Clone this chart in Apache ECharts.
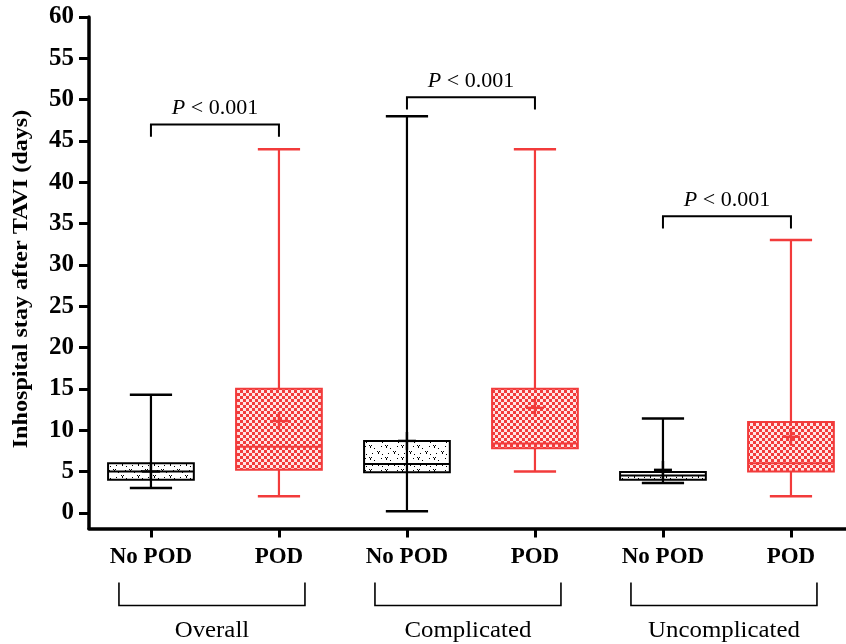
<!DOCTYPE html>
<html><head><meta charset="utf-8">
<script src="https://cdn.jsdelivr.net/npm/echarts@6/dist/echarts.min.js"></script>
<style>html,body{margin:0;padding:0;background:#fff}#c{width:846px;height:644px}</style>
</head><body><div id="c"></div>
<script>
// ---- data ----
const categories = ['No POD', 'POD', 'No POD', 'POD', 'No POD', 'POD'];
const groups = ['Overall', 'Complicated', 'Uncomplicated'];
const whiskerLow = [3.0, 2.0, 0.2, 5.0, 3.6, 2.0];
const q1 = [4.0, 5.2, 4.9, 7.8, 4.0, 5.0];
const median = [5.0, 8.0, 5.9, 8.4, 4.5, 6.0];
const q3 = [6.0, 15.0, 8.7, 15.0, 4.95, 11.0];
const whiskerHigh = [14.3, 44, 48, 44, 11.4, 33];
const means = [5.0, 11.1, 8.7, 12.7, 5.2, 9.2];
const pLabels = ['< 0.001', '< 0.001', '< 0.001'];
const pBracketTop = [47, 50.3, 35.9];
const pBracketLeg = [45.5, 48.8, 34.4];
const yTicks = [0, 5, 10, 15, 20, 25, 30, 35, 40, 45, 50, 55, 60];
const yTitle = 'Inhospital stay after TAVI (days)';
const xPos = categories.map((c, i) => i + 1);

// ---- styles ----
const RED = '#f23b3b';
const BLACK = '#000';
const SERIF = '"Liberation Serif", "Times New Roman", serif';
const Y_MIN = -1.9;

function checkerPattern() {
  const c = document.createElement('canvas');
  c.width = 6; c.height = 6;
  const g = c.getContext('2d');
  g.fillStyle = '#ffe4e4'; g.fillRect(0, 0, 6, 6);
  g.fillStyle = RED;
  g.fillRect(0, 0, 3, 3); g.fillRect(3, 3, 3, 3);
  return { image: c, repeat: 'repeat' };
}
function dotPattern() {
  const c = document.createElement('canvas');
  c.width = 16; c.height = 12;
  const g = c.getContext('2d');
  g.fillStyle = '#fff'; g.fillRect(0, 0, 16, 12);
  g.fillStyle = '#000';
  const v = (x, y) => { g.fillRect(x, y, 1, 1); g.fillRect(x + 2, y, 1, 1); g.fillRect(x + 1, y + 1, 1, 2); };
  v(1, 1); v(9, 7);
  g.fillRect(6, 4, 1, 1); g.fillRect(13, 2, 1, 1); g.fillRect(4, 9, 1, 1); g.fillRect(14, 10, 1, 1);
  return { image: c, repeat: 'repeat' };
}
const patRed = checkerPattern();
const patBlack = dotPattern();

const chart = echarts.init(document.getElementById('c'), null, { renderer: 'canvas' });

const boxData = xPos.map((x, i) => [x, whiskerLow[i], q1[i], median[i], q3[i], whiskerHigh[i], means[i]]);
const pData = groups.map((g, k) => [xPos[2 * k], xPos[2 * k + 1], pBracketTop[k], pBracketLeg[k]]);
const groupData = groups.map((g, k) => [xPos[2 * k], xPos[2 * k + 1], Y_MIN]);

function renderBox(params, api) {
  const i = params.dataIndex;
  const x = api.value(0);
  const col = i % 2 ? RED : BLACK;
  const fill = i % 2 ? patRed : patBlack;
  const pLow = api.coord([x, api.value(1)]);
  const pQ1 = api.coord([x, api.value(2)]);
  const pMed = api.coord([x, api.value(3)]);
  const pQ3 = api.coord([x, api.value(4)]);
  const pHigh = api.coord([x, api.value(5)]);
  const pMean = api.coord([x, api.value(6)]);
  const halfW = api.size([0.335, 0])[0];
  const capW = api.size([0.165, 0])[0];
  const cx = pLow[0];
  const ls = { stroke: col, lineWidth: 2.2 };
  const children = [];
  if (i % 2) {
    children.push({ type: 'line', shape: { x1: cx, y1: pLow[1], x2: cx, y2: pQ1[1] }, style: ls });
    children.push({ type: 'line', shape: { x1: cx, y1: pQ3[1], x2: cx, y2: pHigh[1] }, style: ls });
  }
  children.push({ type: 'line', shape: { x1: cx - capW, y1: pLow[1], x2: cx + capW, y2: pLow[1] }, style: { stroke: col, lineWidth: 2.5 } });
  children.push({ type: 'line', shape: { x1: cx - capW, y1: pHigh[1], x2: cx + capW, y2: pHigh[1] }, style: { stroke: col, lineWidth: 2.5 } });
  children.push({ type: 'rect', shape: { x: cx - halfW, y: pQ3[1], width: 2 * halfW, height: pQ1[1] - pQ3[1] },
    style: { fill: fill, stroke: col, lineWidth: 2 } });
  if (!(i % 2)) {
    children.push({ type: 'line', shape: { x1: cx, y1: pLow[1], x2: cx, y2: pHigh[1] }, style: ls });
  }
  children.push({ type: 'line', shape: { x1: cx - halfW, y1: pMed[1], x2: cx + halfW, y2: pMed[1] }, style: { stroke: col, lineWidth: 2 } });
  children.push({ type: 'line', shape: { x1: cx - 9, y1: pMean[1], x2: cx + 9, y2: pMean[1] }, style: { stroke: col, lineWidth: 2.4 } });
  children.push({ type: 'line', shape: { x1: cx, y1: pMean[1] - 9, x2: cx, y2: pMean[1] + 9 }, style: { stroke: col, lineWidth: 2.4 } });
  return { type: 'group', children: children };
}

function renderP(params, api) {
  const k = params.dataIndex;
  const a = api.coord([api.value(0), api.value(2)]);
  const b = api.coord([api.value(1), api.value(2)]);
  const legY = api.coord([api.value(0), api.value(3)])[1];
  return { type: 'group', children: [
    { type: 'polyline', shape: { points: [[a[0], legY], [a[0], a[1]], [b[0], b[1]], [b[0], legY]] },
      style: { stroke: BLACK, lineWidth: 2, fill: null } },
    { type: 'text', x: (a[0] + b[0]) / 2, y: a[1] - 5,
      style: { text: '{i|P} ' + pLabels[k], rich: { i: { fontStyle: 'italic', fontFamily: SERIF, fontSize: 22, fill: BLACK } },
        fontFamily: SERIF, fontSize: 22, fill: BLACK, align: 'center', verticalAlign: 'bottom' } }
  ] };
}

function renderGroup(params, api) {
  const k = params.dataIndex;
  const a = api.coord([api.value(0), api.value(2)]);
  const b = api.coord([api.value(1), api.value(2)]);
  const axisY = a[1];
  const l = a[0] - 32, r = b[0] + 26;
  return { type: 'group', children: [
    { type: 'polyline', shape: { points: [[l, axisY + 54], [l, axisY + 77], [r, axisY + 77], [r, axisY + 54]] },
      style: { stroke: BLACK, lineWidth: 1.6, fill: null } },
    { type: 'text', x: (l + r) / 2, y: axisY + 102, scaleX: 1.08,
      style: { text: groups[k], fontFamily: SERIF, fontSize: 23, fill: BLACK, align: 'center', verticalAlign: 'middle' } }
  ] };
}

chart.setOption({
  animation: false,
  backgroundColor: '#fff',
  grid: { left: 89, top: 17, right: 0, bottom: 115.5, containLabel: false },
  xAxis: {
    type: 'value', min: 0.516, max: 6.43,
    splitLine: { show: false },
    axisLine: { onZero: false, lineStyle: { color: BLACK, width: 3.5 } },
    axisTick: { customValues: xPos, length: 9, lineStyle: { color: BLACK, width: 3 } },
    axisLabel: { customValues: xPos, formatter: v => categories[Math.round(v) - 1] || '',
      fontFamily: SERIF, fontWeight: 'bold', fontSize: 23, color: BLACK, margin: 17 }
  },
  yAxis: {
    type: 'value', min: Y_MIN, max: 60,
    splitLine: { show: false },
    axisLine: { onZero: false, lineStyle: { color: BLACK, width: 3.5 } },
    axisTick: { customValues: yTicks, length: 10, lineStyle: { color: BLACK, width: 3 } },
    axisLabel: { customValues: yTicks, fontFamily: SERIF, fontWeight: 'bold', fontSize: 25, color: BLACK, margin: 15 }
  },
  graphic: [{
    type: 'text', x: 22, y: 279, rotation: Math.PI / 2, scaleX: 1.15,
    style: { text: yTitle, fontFamily: SERIF, fontWeight: 'bold', fontSize: 21, fill: BLACK, align: 'center', verticalAlign: 'middle' }
  }],
  series: [
    { type: 'custom', renderItem: renderBox, data: boxData, encode: { x: 0, y: [1, 2, 3, 4, 5] }, clip: false, z: 3 },
    { type: 'custom', renderItem: renderP, data: pData, encode: { x: [0, 1], y: [2, 3] }, clip: false, z: 3 },
    { type: 'custom', renderItem: renderGroup, data: groupData, encode: { x: [0, 1], y: 2 }, clip: false, z: 3 }
  ]
});
</script>
</body></html>
